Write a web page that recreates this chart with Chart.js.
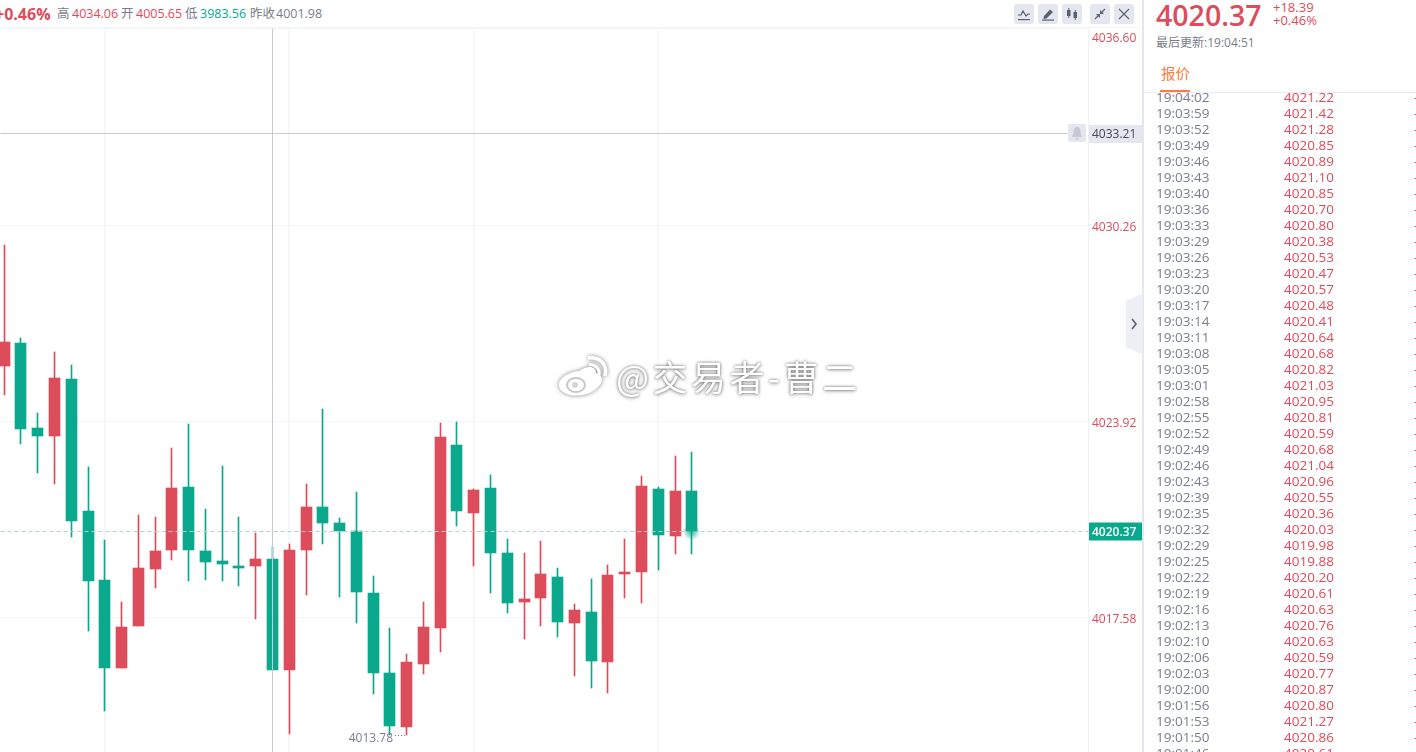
<!DOCTYPE html>
<html>
<head>
<meta charset="utf-8">
<title>4020.37</title>
<script src="https://cdn.jsdelivr.net/npm/chart.js@4/dist/chart.umd.js"></script>
<style>
html, body { margin: 0; padding: 0; background: #fff; overflow: hidden; }
body { width: 1416px; height: 752px; position: relative; font-family: "Open Sans", "Noto Sans CJK SC", sans-serif; color: #7a7d8c; }
.abs { position: absolute; white-space: nowrap; line-height: 1; }
.up { color: #dc4c5a; }
.down { color: #0aa88d; }
#chart-box { position: absolute; left: 0; top: 28px; width: 1143px; height: 724px; }
#top-line { position: absolute; left: 0; top: 27px; width: 1143px; height: 1px; background: #f3f4f8; }
#divider { position: absolute; left: 1142px; top: 0; width: 2px; height: 752px; background: #e4e7f0; }
.tool { position: absolute; top: 4px; width: 20px; height: 20px; background: #e4e7ef; border-radius: 3px; }
.tool svg { display: block; }
#handle { position: absolute; left: 1126px; top: 293px; }
#bell { position: absolute; left: 1068px; top: 124px; width: 18px; height: 18px; background: #e4e7ef; border-radius: 2px; }
#tabs-line { position: absolute; left: 1145px; top: 92px; width: 271px; height: 1px; background: #e9ebf0; }
#tab-mark { position: absolute; left: 1160px; top: 90px; width: 30px; height: 2px; background: #ff7a3c; }
#quotes { position: absolute; left: 1145px; top: 93px; width: 271px; height: 659px; overflow: hidden; }
.row { position: absolute; left: 0; width: 271px; height: 16px; line-height: 16px; font-size: 13.5px; white-space: nowrap; }
.row .t { position: absolute; left: 11px; color: #7a7d8c; }
.row .p { position: absolute; left: 139px; color: #dc4c5a; }
.row .d { position: absolute; left: 269px; color: #dc4c5a; }
#mark { position: absolute; left: 556px; top: 349px; width: 310px; height: 56px; }
#mark .txt { position: absolute; left: 60px; top: 7px; font-family: "Noto Sans CJK SC", sans-serif; font-size: 35px; line-height: 40px; letter-spacing: 3.5px; color: #fff; white-space: nowrap; text-shadow: 0 0 3px rgba(0,0,0,.55), 0 1px 4px rgba(0,0,0,.3); }
</style>
</head>
<body>

<div id="top-line"></div>
<div id="chart-box"><canvas id="kline" width="1143" height="724"></canvas></div>
<div id="divider"></div>

<!-- header quote strip -->
<div class="abs up" style="left:-5px;top:6px;font-size:16px;font-weight:700;">+0.46%</div>
<div class="abs" style="left:57px;top:8px;font-size:12.5px;">高</div>
<div class="abs up" style="left:72px;top:8px;font-size:12.5px;">4034.06</div>
<div class="abs" style="left:121px;top:8px;font-size:12.5px;">开</div>
<div class="abs up" style="left:136px;top:8px;font-size:12.5px;">4005.65</div>
<div class="abs" style="left:185px;top:8px;font-size:12.5px;">低</div>
<div class="abs down" style="left:200px;top:8px;font-size:12.5px;">3983.56</div>
<div class="abs" style="left:250px;top:8px;font-size:12.5px;">昨收</div>
<div class="abs" style="left:276px;top:8px;font-size:12.5px;">4001.98</div>

<!-- toolbar -->
<div class="tool" style="left:1014px"><svg width="20" height="20" viewBox="0 0 20 20"><path d="M4 11 L7 11 L9 7 L12 12 L14 10 L16 10" fill="none" stroke="#5c5f6e" stroke-width="1.2"/><rect x="4" y="15" width="12" height="1.2" fill="#5c5f6e"/></svg></div>
<div class="tool" style="left:1038px"><svg width="20" height="20" viewBox="0 0 20 20"><path d="M6 12 L12 5.5 L15 8 L8.5 14.5 L5.5 15 Z" fill="#5c5f6e"/><rect x="4" y="15.5" width="12" height="1.2" fill="#5c5f6e"/></svg></div>
<div class="tool" style="left:1062px"><svg width="20" height="20" viewBox="0 0 20 20"><rect x="5" y="6" width="3.5" height="6" fill="#5c5f6e"/><rect x="6.3" y="4" width="1" height="10" fill="#5c5f6e"/><rect x="11.5" y="8" width="3.5" height="6" fill="#5c5f6e"/><rect x="12.8" y="6" width="1" height="10" fill="#5c5f6e"/></svg></div>
<div class="tool" style="left:1090px"><svg width="20" height="20" viewBox="0 0 20 20"><path d="M5 15 L9 11 M15 5 L11 9" stroke="#5c5f6e" stroke-width="1.2"/><path d="M6 10 L10 10 L10 14 Z M14 10 L10 10 L10 6 Z" fill="#5c5f6e"/></svg></div>
<div class="tool" style="left:1114px"><svg width="20" height="20" viewBox="0 0 20 20"><path d="M5 5 L15 15 M15 5 L5 15" stroke="#5c5f6e" stroke-width="1.1"/></svg></div>

<div id="bell"><svg width="18" height="18" viewBox="0 0 18 18"><path d="M9 3 C6 3 5.5 6 5.5 8 C5.5 10.5 4 12 4 13 L14 13 C14 12 12.5 10.5 12.5 8 C12.5 6 12 3 9 3 Z" fill="#c6c8d2"/><rect x="7.5" y="14" width="3" height="1.6" fill="#c6c8d2"/></svg></div>

<!-- collapse handle -->
<svg id="handle" width="17" height="62" viewBox="0 0 17 62"><path d="M17 0 L0 8 L0 54 L17 62 Z" fill="#eeeff4"/><path d="M6 26 L10 31 L6 36" fill="none" stroke="#5c5f6e" stroke-width="1.6"/></svg>

<!-- side panel head -->
<div class="abs up" style="left:1156px;top:-1px;font-size:28.5px;line-height:32px;font-weight:600;">4020.37</div>
<div class="abs up" style="left:1273px;top:1px;font-size:13px;">+18.39</div>
<div class="abs up" style="left:1273px;top:14px;font-size:13px;">+0.46%</div>
<div class="abs" style="left:1156px;top:37px;font-size:12px;">最后更新:19:04:51</div>
<div class="abs" style="left:1161px;top:67px;font-size:14.5px;color:#ff7a3c;">报价</div>
<div id="tab-mark"></div>
<div id="tabs-line"></div>
<div id="quotes"></div>

<!-- author mark over the chart -->
<div id="mark">
  <svg width="58" height="56" viewBox="0 0 58 56" style="position:absolute;left:0;top:0;filter:drop-shadow(0 0 2px rgba(0,0,0,.5));">
    <path d="M23 22 C32 16 40 17 40 24 C47 26 48 32 42 38 C36 45 24 48 14 46 C6 44 2 40 3 34 C4 29 12 23 23 22 Z" fill="#fff"/>
    <ellipse cx="20" cy="36" rx="9" ry="7" fill="#fff" stroke="#c9c9c9" stroke-width="2"/>
    <circle cx="19" cy="36" r="3" fill="#d5d5d5"/>
    <path d="M32 9 C43 7 52 15 49 27" fill="none" stroke="#fff" stroke-width="3.5"/>
    <path d="M33 16 C39 15 44 20 43 26" fill="none" stroke="#fff" stroke-width="3"/>
  </svg>
  <div class="txt">@交易者-曹二</div>
</div>

<script>
// candles, oldest first
var candleIndex = [0,1,2,3,4,5,6,7,8,9,10,11,12,13,14,15,16,17,18,19,20,21,22,23,24,25,26,27,28,29,30,31,32,33,34,35,36,37,38,39,40,41];
var opens  = [4025.71,4026.45,4023.71,4023.45,4025.29,4021.03,4018.80,4015.95,4017.31,4019.15,4019.77,4021.80,4019.73,4019.41,4019.25,4019.25,4019.48,4015.89,4019.77,4021.16,4020.64,4020.38,4018.38,4015.79,4014.05,4016.08,4017.25,4023.16,4020.96,4021.77,4019.67,4018.09,4018.21,4018.89,4017.41,4017.76,4016.15,4018.99,4019.06,4021.74,4020.22,4021.67];
var closes = [4026.49,4023.68,4023.45,4025.32,4020.70,4018.76,4015.95,4017.28,4019.18,4019.73,4021.77,4019.77,4019.38,4019.31,4019.18,4019.48,4015.89,4019.77,4021.16,4020.64,4020.38,4018.41,4015.79,4014.08,4016.15,4017.28,4023.42,4021.03,4021.70,4019.67,4018.05,4018.18,4018.99,4017.44,4017.83,4016.18,4018.96,4019.06,4021.83,4020.25,4021.67,4020.37];
var highs  = [4029.62,4026.62,4024.19,4026.16,4025.74,4022.45,4020.09,4018.09,4020.90,4020.83,4023.06,4023.84,4021.09,4022.48,4020.83,4020.32,4019.86,4019.96,4021.90,4024.32,4020.80,4021.64,4018.93,4017.25,4016.41,4018.09,4023.87,4023.90,4021.74,4022.19,4020.12,4019.67,4020.06,4019.18,4018.02,4018.83,4019.28,4020.12,4022.16,4021.80,4022.80,4022.93];
var lows   = [4024.77,4023.19,4022.25,4021.90,4020.19,4017.15,4014.56,4015.95,4017.31,4018.54,4019.44,4018.76,4018.80,4018.76,4018.60,4017.54,4015.89,4013.82,4018.31,4019.96,4018.25,4017.41,4015.11,4013.79,4013.78,4015.76,4016.47,4020.54,4019.25,4018.38,4017.73,4016.89,4017.31,4016.95,4015.69,4015.31,4015.15,4018.21,4018.05,4019.12,4019.64,4019.64];

// price axis
var priceTicks = [4036.60,4030.26,4023.92,4017.58];
var priceMin = 4013.24;
var priceMax = 4036.63;
var indexMin = -0.25075;
var indexMax = 64.627;
var gridCandles = [6,17,28,39];

var lastPrice = 4020.37;
var crossPrice = 4033.21;
var crossCandle = 16;
var crossEnd = 63.41;
var lowCandle = 24;
var lowPrice = 4013.78;

// trade list on the right
var tradeTimes = ['19:04:02','19:03:59','19:03:52','19:03:49','19:03:46','19:03:43','19:03:40','19:03:36','19:03:33','19:03:29','19:03:26','19:03:23','19:03:20','19:03:17','19:03:14','19:03:11','19:03:08','19:03:05','19:03:01','19:02:58','19:02:55','19:02:52','19:02:49','19:02:46','19:02:43','19:02:39','19:02:35','19:02:32','19:02:29','19:02:25','19:02:22','19:02:19','19:02:16','19:02:13','19:02:10','19:02:06','19:02:03','19:02:00','19:01:56','19:01:53','19:01:50','19:01:46'];
var tradePrices = ['4021.22','4021.42','4021.28','4020.85','4020.89','4021.10','4020.85','4020.70','4020.80','4020.38','4020.53','4020.47','4020.57','4020.48','4020.41','4020.64','4020.68','4020.82','4021.03','4020.95','4020.81','4020.59','4020.68','4021.04','4020.96','4020.55','4020.36','4020.03','4019.98','4019.88','4020.20','4020.61','4020.63','4020.76','4020.63','4020.59','4020.77','4020.87','4020.80','4021.27','4020.86','4020.61'];

var RED = '#dc4c5a';
var GREEN = '#0aa88d';
var GREY = '#7a7d8c';

// candles sit on whole pixels so wicks stay one pixel wide
var snapPlugin = {
    id: 'snap',
    afterDatasetsUpdate: function(chart) {
        chart.data.datasets.forEach(function(ds, i) {
            chart.getDatasetMeta(i).data.forEach(function(el) {
                el.x = Math.floor(el.x) + 0.5;
                if (ds.type === 'line') {
                    el.y = Math.floor(el.y) + 0.5;
                } else {
                    el.y = Math.round(el.y);
                    el.base = Math.round(el.base);
                }
            });
        });
    }
};

// price tags, low marker and the glow on the newest candle
var tagsPlugin = {
    id: 'tags',
    afterDraw: function(chart) {
        var ctx = chart.ctx;
        var xs = chart.scales.x;
        var ys = chart.scales.y;
        var right = chart.chartArea.right;
        ctx.save();

        var gx = Math.floor(xs.getPixelForValue(candleIndex[candleIndex.length - 1])) + 0.5;
        var gy = Math.floor(ys.getPixelForValue(lastPrice)) + 0.5;
        var glow = ctx.createRadialGradient(gx, gy, 1, gx, gy, 9);
        glow.addColorStop(0, 'rgba(10,168,141,.75)');
        glow.addColorStop(1, 'rgba(10,168,141,0)');
        ctx.fillStyle = glow;
        ctx.beginPath();
        ctx.arc(gx, gy, 9, 0, Math.PI * 2);
        ctx.fill();

        ctx.font = '12px "Open Sans"';
        ctx.textBaseline = 'middle';
        ctx.textAlign = 'left';

        var cy = Math.round(ys.getPixelForValue(crossPrice));
        ctx.fillStyle = '#e4e7ef';
        ctx.fillRect(right + 1, cy - 9, 54, 18);
        ctx.fillStyle = '#44475a';
        ctx.fillText(crossPrice.toFixed(2), right + 4, cy + 1);

        ctx.fillStyle = GREEN;
        ctx.fillRect(right + 1, gy - 9, 54, 18);
        ctx.fillStyle = '#fff';
        ctx.font = '600 12px "Open Sans"';
        ctx.fillText(lastPrice.toFixed(2), right + 4, gy + 1);

        var lx = Math.floor(xs.getPixelForValue(lowCandle));
        var ly = Math.round(ys.getPixelForValue(lowPrice));
        ctx.font = '12px "Open Sans"';
        ctx.textAlign = 'right';
        ctx.fillStyle = GREY;
        ctx.fillText(lowPrice.toFixed(2), lx - 13, ly + 4);
        ctx.strokeStyle = GREY;
        ctx.setLineDash([1, 2]);
        ctx.beginPath();
        ctx.moveTo(lx - 11, ly + 0.5);
        ctx.lineTo(lx, ly + 0.5);
        ctx.stroke();
        ctx.restore();
    }
};

fillTrades();
startChart();

function fillTrades()
{
    var box = document.getElementById('quotes');
    for (var i = 0; i < tradeTimes.length; i++) {
        var row = document.createElement('div');
        row.className = 'row';
        row.style.top = (i * 16 - 4) + 'px';
        row.innerHTML = '<span class="t">' + tradeTimes[i] + '</span><span class="p">' + tradePrices[i] + '</span><span class="d">-</span>';
        box.appendChild(row);
    }
}

function candleColors()
{
    return closes.map(function(c, i) {
        return c >= opens[i] ? RED : GREEN;
    });
}

function startChart()
{
    var colors = candleColors();
    var wicks = candleIndex.map(function(x, i) { return { x: x, y: [lows[i], highs[i]] }; });
    var bodies = candleIndex.map(function(x, i) { return { x: x, y: [opens[i], closes[i]] }; });

    new Chart(document.getElementById('kline'), {
        type: 'bar',
        plugins: [snapPlugin, tagsPlugin],
        data: {
            datasets: [
                { type: 'bar', data: wicks, backgroundColor: colors, barThickness: 1, grouped: false, order: 4 },
                { type: 'bar', data: bodies, backgroundColor: colors, barThickness: 11, grouped: false, order: 3 },
                { type: 'line', data: [{ x: indexMin, y: lastPrice }, { x: indexMax, y: lastPrice }], borderColor: '#b9cfd0', borderWidth: 1, borderDash: [4, 3], pointRadius: 0, order: 2 },
                { type: 'line', data: [{ x: indexMin, y: crossPrice }, { x: crossEnd, y: crossPrice }], borderColor: '#c8cad8', borderWidth: 1, pointRadius: 0, order: 1 },
                { type: 'line', data: [{ x: crossCandle, y: priceMin }, { x: crossCandle, y: priceMax }], borderColor: '#c8cad8', borderWidth: 1, pointRadius: 0, order: 1 }
            ]
        },
        options: {
            responsive: false,
            animation: false,
            layout: { padding: 0 },
            plugins: { legend: { display: false }, tooltip: { enabled: false } },
            scales: {
                x: {
                    type: 'linear',
                    offset: false,
                    min: indexMin,
                    max: indexMax,
                    afterBuildTicks: function(axis) {
                        axis.ticks = gridCandles.map(function(v) { return { value: v }; });
                    },
                    afterFit: function(axis) { axis.height = 0; },
                    grid: { color: '#f6f7fa', lineWidth: 2, drawTicks: false, offset: false },
                    border: { display: false },
                    ticks: { display: false }
                },
                y: {
                    position: 'right',
                    min: priceMin,
                    max: priceMax,
                    afterBuildTicks: function(axis) {
                        axis.ticks = priceTicks.map(function(v) { return { value: v }; });
                    },
                    afterFit: function(axis) {
                        axis.width = 55;
                        axis.paddingTop = 0;
                        axis.paddingBottom = 0;
                    },
                    grid: { color: '#f4f5f9', lineWidth: 1, drawTicks: false },
                    border: { color: '#f0f1f5' },
                    ticks: {
                        autoSkip: false,
                        padding: 4,
                        labelOffset: 2,
                        color: RED,
                        font: { family: '"Open Sans"', size: 12 },
                        callback: function(v, i) {
                            // the top label hangs below its line so it stays inside the pane
                            return i === 0 ? ['', v.toFixed(2)] : v.toFixed(2);
                        }
                    }
                }
            }
        }
    });
}
</script>
</body>
</html>
